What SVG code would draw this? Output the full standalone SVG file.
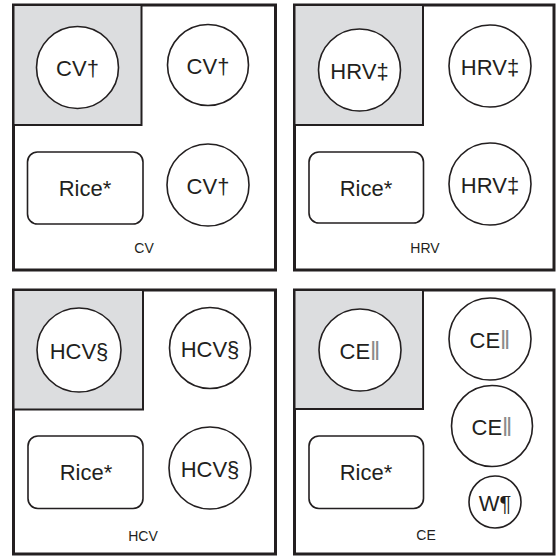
<svg xmlns="http://www.w3.org/2000/svg" width="556" height="556" viewBox="0 0 556 556">
<style>
.frame{fill:#fff;stroke:#231f20;stroke-width:3}
.shade{fill:#dcdddf;stroke:#231f20;stroke-width:2}
.node{fill:#fff;stroke:#231f20;stroke-width:1.6}
.t{font-family:"Liberation Sans",Arial,sans-serif;font-size:22px;fill:#231f20;text-anchor:middle;dominant-baseline:central}
.lab{font-family:"Liberation Sans",Arial,sans-serif;font-size:14px;fill:#231f20;text-anchor:middle}
.bar{fill:#8a8a8a;font-size:25px}
</style>
<g id="panel-cv">
<rect class="frame" x="13.5" y="5" width="262" height="265"/>
<rect class="shade" x="13.5" y="5" width="128" height="120"/>
<text class="lab" x="144" y="253">CV</text>
</g>
<g id="panel-hrv">
<rect class="frame" x="294.5" y="5" width="259.5" height="265"/>
<rect class="shade" x="294.5" y="5" width="128.5" height="120"/>
<text class="lab" x="425" y="253">HRV</text>
</g>
<g id="panel-hcv">
<rect class="frame" x="13.5" y="290" width="262" height="264"/>
<rect class="shade" x="13.5" y="290" width="129.5" height="119.5"/>
<text class="lab" x="143" y="541">HCV</text>
</g>
<g id="panel-ce">
<rect class="frame" x="294.5" y="290" width="259.5" height="264"/>
<rect class="shade" x="294.5" y="290" width="128.5" height="119"/>
<text class="lab" x="426" y="540">CE</text>
</g>
<g id="connectors"></g>
<g id="cv1"><circle class="node" cx="77.5" cy="67.5" r="41"/><text class="t" x="77.5" y="68">CV†</text></g>
<g id="cv2"><circle class="node" cx="208" cy="65" r="40.5"/><text class="t" x="208" y="66">CV†</text></g>
<g id="cv3"><circle class="node" cx="208" cy="185" r="41"/><text class="t" x="208" y="186">CV†</text></g>
<g id="rice1"><rect class="node" x="27.5" y="152" width="115.5" height="72" rx="10"/><text class="t" x="85" y="188">Rice*</text></g>
<g id="hrv1"><circle class="node" cx="359.5" cy="70" r="41"/><text class="t" x="359.5" y="71">HRV‡</text></g>
<g id="hrv2"><circle class="node" cx="490" cy="66" r="41"/><text class="t" x="490" y="67">HRV‡</text></g>
<g id="hrv3"><circle class="node" cx="490" cy="184" r="41"/><text class="t" x="490" y="185">HRV‡</text></g>
<g id="rice2"><rect class="node" x="309" y="152" width="114.5" height="71" rx="10"/><text class="t" x="366" y="188">Rice*</text></g>
<g id="hcv1"><circle class="node" cx="79" cy="350" r="42"/><text class="t" x="79" y="351">HCV§</text></g>
<g id="hcv2"><circle class="node" cx="210" cy="348" r="40.5"/><text class="t" x="210" y="349">HCV§</text></g>
<g id="hcv3"><circle class="node" cx="210" cy="468" r="41"/><text class="t" x="210" y="469">HCV§</text></g>
<g id="rice3"><rect class="node" x="28" y="436" width="115" height="72.5" rx="10"/><text class="t" x="86" y="472">Rice*</text></g>
<g id="ce1"><circle class="node" cx="360" cy="350" r="41"/><text class="t" x="360" y="351">CE<tspan class="bar">‖</tspan></text></g>
<g id="ce2"><circle class="node" cx="490" cy="339" r="41"/><text class="t" x="490" y="340">CE<tspan class="bar">‖</tspan></text></g>
<g id="ce3"><circle class="node" cx="492" cy="426" r="40.5"/><text class="t" x="492" y="427">CE<tspan class="bar">‖</tspan></text></g>
<g id="w"><circle class="node" cx="495" cy="502" r="26"/><text class="t" x="495" y="503">W¶</text></g>
<g id="rice4"><rect class="node" x="309" y="436" width="114.5" height="72.5" rx="10"/><text class="t" x="366" y="472">Rice*</text></g>
</svg>
